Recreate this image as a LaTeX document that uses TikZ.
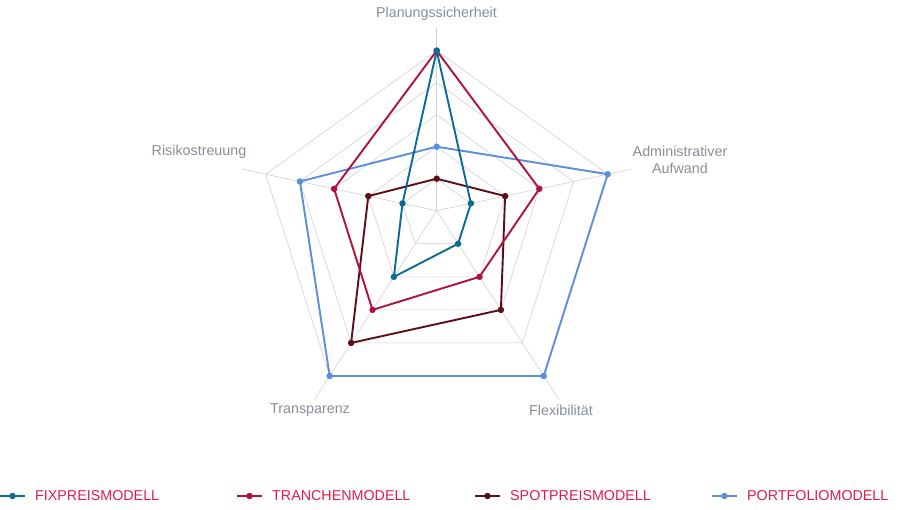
\documentclass[tikz,border=0pt]{standalone}
\usepackage{fontspec}
\setmainfont{Liberation Sans}
\usetikzlibrary{calc}
\begin{document}
\begin{tikzpicture}[x=1pt,y=-1pt,
  lbl/.style={text=lblgray, font=\fontsize{14.3}{17}\selectfont, align=center},
  leg/.style={text=legred, font=\fontsize{14.3}{17}\selectfont, anchor=west, inner sep=0},
  grid/.style={draw=black!18, line width=0.6pt},
  series/.style={line width=1.9pt, line join=round},
  dot/.style={circle, fill, inner sep=0, minimum size=6.5pt}]
\definecolor{cfix}{HTML}{0B6B96}
\definecolor{ctra}{HTML}{B0123C}
\definecolor{cspo}{HTML}{5C0F14}
\definecolor{cpor}{HTML}{5B8FD6}
\definecolor{legred}{HTML}{E3194B}
\definecolor{lblgray}{HTML}{878E99}
\useasboundingbox (0,0) rectangle (900,510);
\coordinate (C) at (436.7,210.7);
\foreach \r in {1,...,5}{
  \draw[grid] ($(C)+(0,-32*\r)$) -- ($(C)+(34.2*\r,-7.3*\r)$) -- ($(C)+(21.4*\r,33.06*\r)$) -- ($(C)+(-21.4*\r,33.06*\r)$) -- ($(C)+(-34.2*\r,-7.3*\r)$) -- cycle;
}
\foreach \dx/\dy in {0/-32,34.2/-7.3,21.4/33.06,-21.4/33.06,-34.2/-7.3}{
  \draw[grid] (C) -- ($(C)+5.7*(\dx,\dy)$);
}
\newcommand\series[6]{%
  \draw[series,#1] ($(C)+#2*(0,-32)$) coordinate (#1a) -- ($(C)+#3*(34.2,-7.3)$) coordinate (#1b) -- ($(C)+#4*(21.4,33.06)$) coordinate (#1c) -- ($(C)+#5*(-21.4,33.06)$) coordinate (#1d) -- ($(C)+#6*(-34.2,-7.3)$) coordinate (#1e) -- cycle;
  \foreach \p in {a,b,c,d,e}{\node[dot,#1] at (#1\p) {};}}
\series{cpor}{2}{5}{5}{5}{4}
\series{cspo}{1}{2}{3}{4}{2}
\series{ctra}{5}{3}{2}{3}{3}
\series{cfix}{5}{1}{1}{2}{1}
\node[lbl] (l1) at (436.5,14) {Planungssicherheit};
\node[lbl] (l2) at (680,160) {Administrativer\\Aufwand};
\node[lbl] (l3) at (561,410) {Flexibilität};
\node[lbl] (l4) at (310,410) {Transparenz};
\node[lbl] (l5) at (199,152) {Risikostreuung};
\foreach \x/\c/\t in {0/cfix/FIXPREISMODELL,237/ctra/TRANCHENMODELL,475/cspo/SPOTPREISMODELL,712/cpor/PORTFOLIOMODELL}{
  \draw[\c,line width=1.9pt] (\x,496) -- (\x+25,496);
  \node[dot,\c] at (\x+12.5,496) {};
  \node[leg] at (\x+35,496) {\t};
}
\end{tikzpicture}
\end{document}
